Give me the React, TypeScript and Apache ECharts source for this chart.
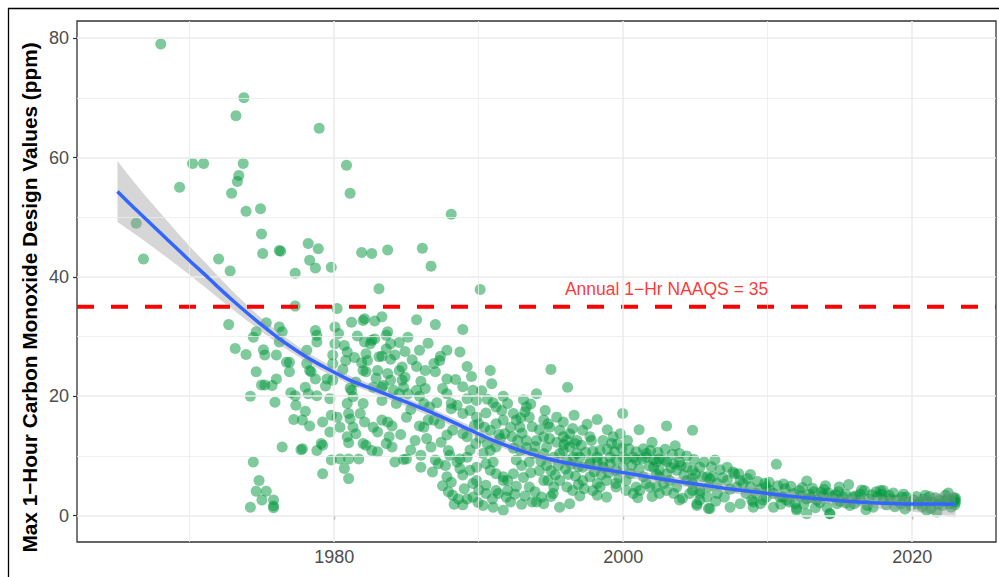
import React, { useEffect, useRef } from "react";
import * as echarts from "echarts";

// ---- axes ----
const X_MIN = 1962.2;
const X_MAX = 2025.8;
const Y_MIN = -4.42;
const Y_MAX = 82.87;
const X_TICKS = [1980, 2000, 2020];
const X_MINOR = [1970, 1990, 2010];
const Y_TICKS = [0, 20, 40, 60, 80];
const Y_MINOR = [10, 30, 50, 70];

const Y_TITLE = "Max 1\u2212Hour Carbon Monoxide Design Values (ppm)";
const NAAQS = 35;
const NAAQS_LABEL = "Annual 1\u2212Hr NAAQS = 35";
const NAAQS_LABEL_POS: [number, number] = [2003.0, 37.9];

// ---- observations [year, ppm] ----
const pointsEarly: [number, number][] = [
  [1968.0, 79.0], [1973.75, 70.0], [1973.2, 67.0], [1978.96, 64.9], [1970.2, 59.0], [1970.96, 59.0],
  [1973.7, 59.0], [1980.85, 58.7], [1969.3, 55.0], [1973.4, 57.0], [1973.3, 56.0], [1972.9, 54.0],
  [1981.1, 54.0], [1973.9, 51.0], [1974.9, 51.4], [1966.3, 49.0], [1974.97, 47.2], [1975.05, 43.9],
  [1976.2, 44.4], [1976.3, 44.3], [1978.2, 45.6], [1978.9, 44.7], [1978.3, 42.8], [1978.7, 41.5],
  [1979.8, 41.6], [1977.3, 40.6], [1981.9, 44.1], [1982.6, 43.9], [1983.7, 44.5], [1986.1, 44.8],
  [1983.1, 38.0], [1966.8, 43.0], [1972.0, 43.0], [1972.8, 41.0], [1988.1, 50.5], [1986.7, 41.8],
  [1990.1, 37.9],
];

const points1970s: [number, number][] = [
  [1972.7, 32.0], [1973.15, 28.0], [1973.9, 27.0], [1974.4, 29.9], [1974.6, 30.8], [1975.3, 32.3],
  [1976.2, 31.6], [1976.4, 30.8], [1977.3, 35.1], [1975.1, 27.8], [1975.2, 26.9], [1976.0, 26.9],
  [1976.2, 29.1], [1974.6, 24.1], [1976.0, 22.9], [1974.97, 21.9], [1975.2, 21.9], [1975.7, 21.8],
  [1974.2, 20.0], [1975.9, 19.0], [1976.7, 25.7], [1976.9, 25.7], [1976.9, 24.1], [1977.0, 20.6],
  [1977.3, 20.1], [1977.35, 18.5], [1977.2, 16.1], [1977.8, 16.0], [1978.0, 17.5], [1978.3, 15.0],
  [1976.4, 11.5], [1977.7, 11.05], [1977.8, 11.2], [1978.1, 27.7], [1978.1, 25.5], [1978.3, 24.3],
  [1978.4, 24.1], [1978.7, 22.9], [1978.0, 21.5], [1978.2, 20.4], [1978.8, 20.1], [1978.7, 31.0],
  [1978.8, 30.2], [1978.8, 29.1], [1979.2, 15.7], [1979.7, 14.0], [1979.4, 21.7], [1979.7, 19.6],
  [1979.8, 16.8], [1979.1, 12.1], [1979.2, 11.8], [1978.8, 10.9], [1979.2, 7.0], [1980.05, 31.6],
  [1980.2, 34.7], [1979.9, 26.9], [1979.9, 25.5], [1979.9, 22.7], [1979.8, 9.3], [1974.4, 9.0],
  [1974.8, 5.9], [1974.6, 4.1], [1975.3, 4.1], [1975.0, 2.6], [1975.8, 2.6], [1975.8, 1.6],
  [1975.8, 1.3], [1974.2, 1.4], [1979.5, 22.9],
];

const points1980s: [number, number][] = [
  [1981.2, 32.4], [1982.0, 32.7], [1982.1, 33.0], [1982.8, 32.6], [1983.3, 33.3], [1985.7, 32.8],
  [1987.0, 32.0], [1988.9, 31.2], [1983.7, 30.8], [1983.6, 30.2], [1983.9, 28.8], [1982.6, 29.4],
  [1982.5, 28.8], [1982.8, 29.6], [1985.1, 29.9], [1980.7, 28.5], [1980.9, 27.4], [1980.8, 26.0],
  [1982.2, 27.1], [1982.3, 26.0], [1983.1, 26.6], [1983.3, 26.7], [1983.9, 26.2], [1984.9, 27.5],
  [1984.7, 24.9], [1984.5, 24.3], [1985.7, 25.0], [1986.3, 24.3], [1986.9, 25.5], [1987.0, 24.1],
  [1987.3, 26.0], [1987.8, 27.7], [1987.35, 26.7], [1988.7, 27.4], [1989.2, 25.0], [1987.8, 22.9],
  [1982.0, 24.3], [1982.2, 24.1], [1983.0, 24.3], [1983.7, 23.8], [1981.5, 22.4], [1981.1, 21.4],
  [1981.2, 21.0], [1982.7, 21.5], [1983.3, 21.5], [1983.4, 21.8], [1984.1, 21.0], [1984.7, 22.7],
  [1984.8, 21.5], [1985.1, 20.4], [1985.7, 21.0], [1985.9, 20.0], [1986.3, 21.3], [1980.9, 18.8],
  [1981.0, 17.1], [1981.1, 16.2], [1982.0, 18.8], [1981.8, 17.1], [1982.1, 15.7], [1983.3, 19.3],
  [1983.3, 16.0], [1983.0, 14.0], [1982.0, 12.1], [1982.2, 11.8], [1982.6, 10.9], [1983.0, 10.7],
  [1981.5, 13.7], [1983.8, 13.2], [1984.0, 11.5], [1983.7, 15.7], [1985.0, 16.5], [1985.9, 15.0],
  [1986.2, 14.8], [1981.0, 12.2], [1980.4, 9.5], [1981.0, 9.5], [1981.7, 9.5], [1980.7, 7.9],
  [1981.0, 6.2], [1984.2, 9.0], [1984.8, 9.4], [1985.0, 9.5], [1985.6, 12.6], [1986.0, 10.1],
  [1986.0, 8.1], [1986.7, 11.5], [1987.0, 9.3], [1987.2, 8.7], [1987.7, 8.4], [1987.8, 6.5],
  [1988.1, 5.6], [1987.9, 10.9], [1988.0, 10.1], [1987.8, 13.5], [1988.2, 14.3], [1987.8, 20.4],
  [1988.1, 18.8], [1988.1, 17.9], [1988.5, 18.5], [1986.9, 16.0], [1987.3, 15.4], [1987.9, 4.0],
  [1988.2, 3.4], [1988.6, 2.8], [1989.2, 2.8], [1988.7, 7.9], [1988.9, 6.8], [1988.7, 9.5],
  [1989.2, 9.8], [1988.9, 13.7], [1989.2, 13.2], [1988.9, 17.1], [1980.05, 28.8], [1982.1, 29.1],
  [1989.4, 17.6], [1989.85, 19.3], [1989.2, 19.6], [1986.6, 18.2], [1986.2, 18.8], [1984.3, 18.8],
  [1982.7, 14.8], [1980.2, 16.5], [1980.4, 14.8], [1981.3, 14.8], [1980.9, 13.2], [1989.6, 5.4],
  [1989.85, 5.9], [1988.5, 9.0], [1989.6, 3.1], [1989.95, 2.2],
  [1980.3, 30.5], [1981.6, 30.1], [1981.4, 26.5], [1980.6, 24.5], [1981.9, 25.6], [1983.6, 27.9],
  [1984.2, 26.9], [1984.5, 29.0], [1985.4, 26.1], [1985.9, 27.7], [1986.5, 28.9], [1986.0, 22.5],
  [1984.9, 23.2], [1983.9, 22.7], [1982.9, 23.0], [1981.3, 19.9], [1984.5, 20.4], [1985.3, 17.8],
  [1986.5, 16.0], [1984.0, 15.0], [1983.6, 12.1], [1984.6, 13.6], [1985.3, 11.0], [1986.4, 12.9],
  [1987.4, 12.3], [1987.1, 18.9], [1987.5, 21.3], [1988.4, 22.8], [1988.9, 21.6], [1989.5, 23.3],
  [1989.6, 21.0], [1989.8, 12.1], [1989.4, 11.0], [1989.7, 15.1], [1989.0, 4.5], [1988.9, 1.8],
  [1988.3, 1.9], [1989.4, 7.6], [1987.5, 5.0], [1986.8, 7.3],
];

const points1990s: [number, number][] = [
  [1990.8, 24.3], [1990.9, 22.1], [1991.7, 20.0], [1993.1, 19.4], [1993.3, 18.2], [1993.2, 17.4],
  [1994.0, 20.4], [1995.0, 24.5], [1996.15, 21.5], [1998.2, 16.1], [1999.96, 17.1], [1989.85, 16.5],
  [1990.5, 17.2], [1990.0, 15.4], [1990.4, 14.8], [1990.8, 14.3], [1991.2, 15.4], [1991.7, 16.0],
  [1992.2, 14.8], [1991.8, 13.7], [1991.5, 12.9], [1991.2, 11.5], [1990.8, 10.9], [1990.3, 10.4],
  [1989.85, 8.1], [1990.5, 8.7], [1991.0, 9.0], [1991.7, 6.5], [1992.0, 5.9], [1992.4, 7.0],
  [1992.6, 9.3], [1992.97, 8.4], [1993.5, 9.0], [1993.8, 10.4], [1994.0, 12.6], [1994.5, 13.2],
  [1994.9, 12.9], [1995.4, 12.3], [1993.5, 4.8], [1993.9, 4.0], [1994.5, 5.9], [1994.8, 5.9],
  [1995.2, 4.8], [1995.6, 5.9], [1996.1, 4.8], [1996.5, 4.2], [1995.6, 1.4], [1996.3, 2.0],
  [1992.97, 1.9], [1992.2, 2.3], [1991.7, 0.9], [1990.5, 3.7], [1990.95, 2.8], [1991.2, 4.2],
  [1990.3, 1.7], [1991.35, 3.7], [1991.7, 5.9], [1992.0, 4.2], [1990.5, 5.1], [1991.2, 7.0],
  [1990.8, 7.6], [1997.2, 8.1], [1997.7, 8.7], [1998.2, 9.0], [1998.6, 8.1], [1999.1, 8.7],
  [1999.5, 7.6], [1997.2, 5.9], [1997.7, 6.5], [1998.2, 5.4], [1998.85, 5.9], [1999.5, 5.4],
  [1998.2, 3.4], [1998.85, 3.1], [1994.7, 11.5], [1994.5, 10.4], [1995.85, 10.9], [1996.3, 11.5],
  [1996.8, 10.4], [1993.5, 16.5], [1994.5, 16.0], [1994.9, 14.8], [1997.2, 14.3], [1997.7, 13.2],
  [1998.6, 12.6], [1999.3, 13.2], [1999.8, 13.7], [1992.6, 16.0], [1992.85, 14.8], [1996.3, 13.7],
  [1996.8, 12.6], [1995.85, 13.2], [1992.3, 13.2], [1992.7, 12.6], [1993.3, 12.6], [1994.8, 15.4],
  [1995.6, 14.3], [1995.85, 15.7], [1996.1, 12.6], [1996.65, 12.1], [1997.1, 11.8], [1997.8, 12.6],
  [1999.2, 12.1], [1995.2, 9.8], [1995.6, 10.4], [1996.1, 9.3], [1996.55, 9.8], [1997.0, 9.8],
  [1997.7, 9.0], [1998.2, 9.8], [1998.6, 9.0], [1999.1, 9.8], [1999.5, 9.3], [1994.5, 2.0],
  [1994.0, 2.3], [1994.35, 3.1], [1995.15, 3.7], [1997.9, 4.2], [1998.4, 4.8], [1999.5, 4.8],
  [1990.2, 20.9], [1990.6, 19.5], [1991.2, 18.2], [1991.6, 17.6], [1992.0, 18.8], [1992.4, 17.1],
  [1992.9, 16.4], [1993.7, 14.9], [1994.2, 14.4], [1993.0, 13.8], [1991.4, 13.6], [1990.1, 13.0],
  [1990.6, 12.0], [1992.4, 11.3], [1992.9, 10.9], [1993.3, 11.4], [1993.9, 11.6], [1994.3, 9.1],
  [1994.7, 8.4], [1995.0, 7.5], [1995.5, 8.4], [1996.0, 7.8], [1996.4, 8.6], [1996.9, 8.2],
  [1997.4, 10.6], [1997.9, 10.8], [1998.4, 10.9], [1998.9, 11.1], [1999.4, 10.7], [1999.9, 11.3],
  [1998.0, 7.3], [1998.5, 6.9], [1999.0, 7.2], [1999.7, 6.4], [1996.7, 6.6], [1996.2, 6.9],
  [1995.3, 6.8], [1993.1, 6.4], [1993.6, 7.2], [1992.6, 4.9], [1991.9, 3.1], [1992.5, 3.6],
  [1993.2, 3.3], [1993.7, 2.3], [1991.0, 1.4], [1990.0, 4.3], [1997.0, 3.3], [1997.3, 4.5],
  [1996.9, 5.2], [1995.0, 3.2], [1994.2, 7.5], [1995.9, 11.9], [1996.5, 14.6], [1997.5, 15.3],
  [1998.9, 14.4], [1999.6, 12.0], [1991.0, 18.9], [1993.6, 18.7], [1994.6, 17.6], [1995.4, 16.5],
  [1996.6, 16.8],
];

const points2000s: [number, number][] = [
  [2001.1, 14.4], [2003.0, 15.0], [2000.0, 8.1], [2000.2, 5.9], [2000.9, 4.8], [2001.6, 5.4],
  [2002.3, 4.8], [2002.8, 5.4], [2000.0, 9.8], [2000.9, 9.3], [2001.6, 9.8], [2002.3, 9.0],
  [2002.8, 9.3], [2000.5, 7.0], [2001.4, 6.5], [2002.3, 7.0], [2000.2, 9.5], [2000.7, 9.8],
  [2001.3, 9.5], [2001.6, 10.4], [2002.1, 9.3], [2002.5, 9.5], [2003.0, 9.0], [2003.5, 8.7],
  [2003.9, 9.0], [2004.4, 8.1], [2004.8, 7.6], [2005.3, 8.1], [2005.8, 6.5], [2002.1, 8.1],
  [2002.5, 7.6], [2003.0, 7.0], [2003.7, 7.6], [2004.0, 8.4], [2003.2, 5.9], [2003.7, 4.8],
  [2004.8, 5.4], [2005.3, 4.2], [2003.9, 2.6], [2005.3, 2.6], [2005.9, 1.2], [2000.2, 4.2],
  [2000.7, 3.7], [2001.15, 4.2], [2001.85, 4.8], [2002.5, 3.7], [2003.0, 4.2], [2003.5, 3.7],
  [2004.6, 3.7], [2005.1, 2.0], [2004.8, 14.3], [2006.35, 9.3], [2002.5, 6.5], [2004.4, 5.9],
  [2004.8, 6.2], [2005.5, 6.5], [2006.0, 6.2], [2005.9, 4.8], [2006.5, 5.4], [2007.2, 5.9],
  [2007.7, 7.0], [2008.0, 7.0], [2008.8, 6.9], [2004.8, 4.2], [2005.3, 3.7], [2005.8, 3.1],
  [2006.5, 3.7], [2007.0, 3.1], [2007.4, 1.4], [2006.0, 1.2], [2005.1, 1.7], [2007.85, 4.8],
  [2008.3, 5.4], [2008.8, 4.8], [2008.5, 3.7], [2009.2, 3.7], [2009.0, 2.3], [2009.5, 2.0],
  [2009.9, 3.1], [2006.2, 6.5], [2007.6, 7.3], [2009.5, 4.5], [2009.9, 4.8], [2009.7, 2.6],
  [2009.0, 1.4], [2008.9, 2.6],
  [2000.4, 11.2], [2000.9, 10.7], [2001.4, 11.2], [2001.9, 10.9], [2002.4, 10.6], [2002.9, 11.1],
  [2003.4, 10.3], [2003.9, 10.4], [2004.4, 10.0], [2004.9, 9.4], [2005.6, 9.0], [2006.1, 8.2],
  [2006.7, 7.7], [2007.2, 8.1], [2000.6, 8.5], [2001.1, 7.8], [2001.8, 8.3], [2003.3, 8.0],
  [2004.2, 6.8], [2005.0, 7.0], [2006.9, 6.4], [2007.4, 4.4], [2008.1, 5.9], [2008.6, 6.2],
  [2009.3, 5.7], [2009.8, 5.4], [2001.0, 3.0], [2002.0, 3.2], [2004.1, 2.9], [2006.4, 2.4],
  [2008.1, 2.0], [2000.3, 12.6], [2002.0, 12.3], [2003.6, 11.7],
];

const points2010s: [number, number][] = [
  [2010.6, 8.6], [2012.7, 5.8], [2015.6, 5.2], [2014.95, 4.8], [2017.8, 4.2], [2018.0, 4.2],
  [2010.15, 4.2], [2010.4, 3.7], [2010.4, 1.4], [2010.85, 3.1], [2011.3, 2.6], [2012.0, 0.9],
  [2012.7, 0.3], [2014.3, 0.3], [2021.0, 0.9], [2021.7, 0.6], [2011.05, 3.1], [2011.5, 2.3],
  [2012.0, 1.2], [2012.2, 4.2], [2012.7, 2.8], [2013.2, 4.0], [2013.4, 2.6], [2013.85, 3.4],
  [2014.1, 1.4], [2014.3, 0.3], [2014.8, 2.0], [2014.9, 4.0], [2015.2, 3.1], [2015.9, 3.1],
  [2016.4, 2.6], [2016.7, 4.2], [2016.9, 1.7], [2017.3, 1.4], [2017.5, 4.0], [2018.0, 2.6],
  [2018.5, 2.8], [2018.9, 2.6], [2019.6, 3.1], [2020.1, 2.6], [2020.5, 2.3], [2021.0, 2.6],
  [2021.4, 2.3], [2021.9, 2.6], [2022.4, 2.8], [2022.85, 2.3], [2022.95, 2.6], [2011.2, 4.5],
  [2011.8, 3.7], [2012.3, 3.3], [2012.5, 1.9], [2013.0, 3.0], [2013.6, 2.2], [2013.9, 4.4],
  [2014.5, 3.3], [2015.0, 2.4], [2015.4, 3.6], [2015.7, 1.7], [2016.1, 3.3], [2016.5, 4.3],
  [2017.0, 2.8], [2017.6, 3.2], [2018.2, 1.8], [2018.4, 3.4], [2018.8, 1.5], [2019.2, 2.0],
  [2019.4, 3.6], [2019.9, 1.7], [2020.3, 3.2], [2020.7, 1.5], [2020.9, 3.4], [2021.3, 1.2],
  [2021.6, 3.0], [2022.1, 1.7], [2022.3, 3.4], [2022.7, 1.4], [2022.9, 3.0], [2022.6, 2.0],
  [2023.0, 2.3], [2016.8, 1.0], [2014.0, 5.0],
  [2010.1, 5.6], [2010.7, 5.0], [2011.1, 5.3], [2011.6, 4.9], [2012.4, 4.7], [2013.1, 4.6],
  [2013.7, 3.9], [2014.2, 3.8], [2014.7, 3.5], [2015.4, 2.1], [2016.0, 2.0], [2016.4, 3.6],
  [2017.2, 3.5], [2017.9, 3.6], [2018.7, 3.8], [2019.3, 3.1], [2019.8, 2.3], [2020.4, 1.9],
  [2020.8, 2.8], [2021.2, 3.2], [2021.8, 1.9], [2022.2, 2.4], [2022.5, 3.8], [2022.95, 1.8],
  [2023.0, 2.9], [2019.5, 1.1], [2011.9, 2.0], [2013.3, 1.3], [2010.9, 1.9], [2012.9, 3.6],
];

// ---- loess smooth ----
const smoothYears = [1965, 1966, 1967, 1968, 1969, 1970, 1971, 1972, 1973, 1974, 1975, 1976, 1977, 1978, 1979, 1981, 1983, 1985, 1987, 1989, 1991, 1993, 1995, 1997, 1999, 2001, 2003, 2005, 2007, 2009, 2011, 2013, 2015, 2017, 2019, 2021, 2023];
const smoothFit = [54.3, 51.9, 49.6, 47.3, 45.0, 42.7, 40.5, 38.2, 36.0, 33.9, 31.9, 30.0, 28.3, 26.7, 25.3, 22.8, 20.9, 19.0, 17.0, 14.8, 12.6, 10.8, 9.4, 8.4, 7.6, 6.8, 6.0, 5.3, 4.6, 4.0, 3.4, 2.9, 2.5, 2.2, 2.0, 1.95, 1.9];
const smoothLower = [49.2, 47.5, 45.8, 44.0, 42.2, 40.3, 38.4, 36.4, 34.5, 32.6, 30.8, 29.0, 27.4, 25.9, 24.5, 22.1, 20.2, 18.3, 16.3, 14.1, 11.9, 10.1, 8.7, 7.7, 6.9, 6.1, 5.3, 4.6, 3.9, 3.3, 2.7, 2.1, 1.7, 1.3, 0.9, 0.4, -0.3];
const smoothUpper = [59.4, 56.3, 53.4, 50.6, 47.8, 45.1, 42.6, 40.0, 37.5, 35.2, 33.0, 31.0, 29.2, 27.5, 26.1, 23.5, 21.6, 19.7, 17.7, 15.5, 13.3, 11.5, 10.1, 9.1, 8.3, 7.5, 6.7, 6.0, 5.3, 4.7, 4.1, 3.7, 3.3, 3.1, 3.1, 3.5, 4.1];

const FONT = "'Liberation Sans', Arial, Helvetica, sans-serif";

export default function App() {
  const ref = useRef<HTMLDivElement>(null);

  useEffect(() => {
    if (!ref.current) return;
    const chart = echarts.init(ref.current, undefined, { renderer: "svg" });
    const allPoints = [...pointsEarly, ...points1970s, ...points1980s, ...points1990s, ...points2000s, ...points2010s];
    const smoothLine = smoothYears.map((x, i) => [x, smoothFit[i]]);

    const gridLines: any[] = [
      ...X_MINOR.map((v) => ({ xAxis: v, lineStyle: { width: 0.8 } })),
      ...X_TICKS.map((v) => ({ xAxis: v, lineStyle: { width: 1.5 } })),
      ...Y_MINOR.map((v) => ({ yAxis: v, lineStyle: { width: 0.8 } })),
      ...Y_TICKS.map((v) => ({ yAxis: v, lineStyle: { width: 1.5 } })),
    ];

    chart.setOption({
      animation: false,
      grid: { left: 77, top: 21, width: 919, height: 521, show: true, borderColor: "#333333", borderWidth: 1.3, backgroundColor: "transparent", containLabel: false },
      xAxis: {
        type: "value", min: X_MIN, max: X_MAX,
        splitLine: { show: false }, axisLine: { show: false },
        axisTick: { show: true, customValues: X_TICKS, length: 4, lineStyle: { color: "#333333", width: 1.2 } },
        axisLabel: { customValues: X_TICKS, formatter: (v: number) => String(v), color: "#4D4D4D", fontSize: 18, fontFamily: FONT, margin: 6 },
      },
      yAxis: {
        type: "value", min: Y_MIN, max: Y_MAX,
        splitLine: { show: false }, axisLine: { show: false },
        axisTick: { show: true, customValues: Y_TICKS, length: 4, lineStyle: { color: "#333333", width: 1.2 } },
        axisLabel: { customValues: Y_TICKS, formatter: (v: number) => String(v), color: "#4D4D4D", fontSize: 18, fontFamily: FONT, margin: 8 },
      },
      graphic: [
        { type: "rect", shape: { x: 8.5, y: 8.5, width: 1100, height: 700 }, style: { fill: "none", stroke: "#000000", lineWidth: 1.3 }, silent: true },
        { type: "text", x: 29, y: 297.5, rotation: Math.PI / 2, style: { text: Y_TITLE, fill: "#000000", font: `bold 20.8px ${FONT}`, textAlign: "center", textVerticalAlign: "middle" }, silent: true },
      ],
      series: [
        {
          type: "line", name: "grid", data: [[X_MIN, Y_MIN], [X_MAX, Y_MIN]], symbol: "none", lineStyle: { opacity: 0 }, z: 0, silent: true,
          markLine: { silent: true, symbol: ["none", "none"], label: { show: false }, lineStyle: { color: "#EBEBEB", type: "solid" }, data: gridLines, animation: false },
        },
        {
          type: "scatter", name: "obs", data: allPoints, symbol: "circle", symbolSize: 11,
          itemStyle: { color: "rgb(0,150,60)", opacity: 0.5 }, z: 2, silent: true,
        },
        {
          type: "custom", name: "band", z: 3, silent: true,
          data: [[smoothYears[0], smoothFit[0]]],
          renderItem: (params: any, api: any) => {
            const pts: number[][] = [];
            for (let i = 0; i < smoothYears.length; i++) pts.push(api.coord([smoothYears[i], smoothUpper[i]]));
            for (let i = smoothYears.length - 1; i >= 0; i--) pts.push(api.coord([smoothYears[i], smoothLower[i]]));
            return { type: "polygon", shape: { points: pts }, style: { fill: "rgba(153,153,153,0.4)" } };
          },
        },
        {
          type: "line", name: "naaqs", data: [[X_MIN, NAAQS], [X_MAX, NAAQS]], symbol: "none", z: 4, silent: true,
          lineStyle: { color: "#FF0000", width: 4, type: [17, 17] },
        },
        {
          type: "line", name: "smooth", data: smoothLine, symbol: "none", smooth: 0.3, z: 5, silent: true,
          lineStyle: { color: "#3366FF", width: 3.5 },
        },
        {
          type: "scatter", name: "label", data: [NAAQS_LABEL_POS], symbolSize: 0, z: 6, silent: true,
          label: { show: true, position: "inside", formatter: NAAQS_LABEL, color: "#FF0000", fontSize: 17.5, fontFamily: FONT },
        },
      ],
    });
    return () => chart.dispose();
  }, []);

  return <div ref={ref} style={{ position: "absolute", left: 0, top: 0, width: 999, height: 577, background: "#FFFFFF" }} />;
}
